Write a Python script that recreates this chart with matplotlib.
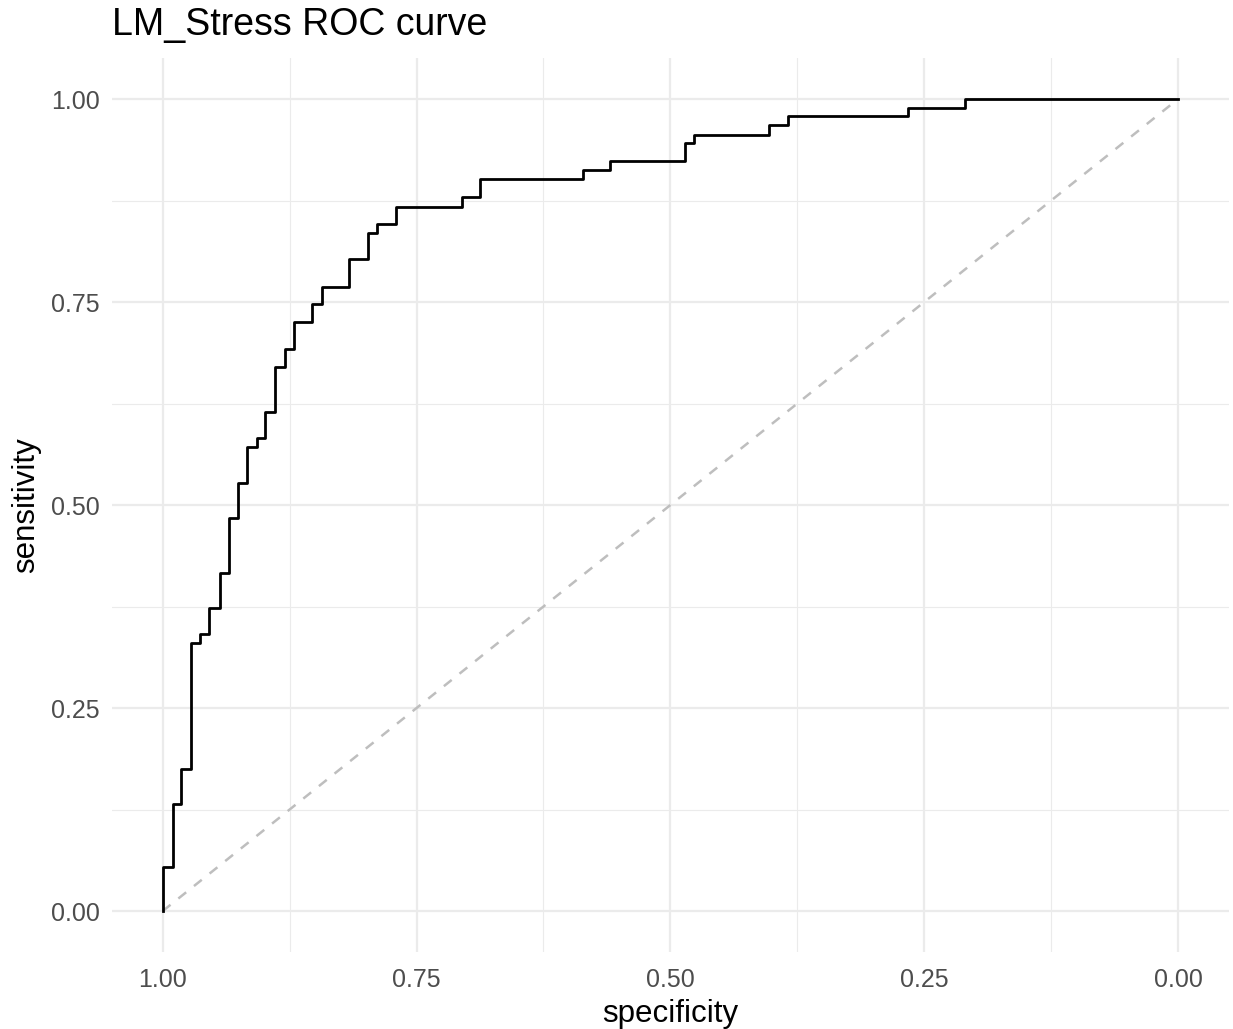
import numpy as np
import matplotlib.pyplot as plt

plt.rcParams['font.family'] = ['Liberation Sans', 'DejaVu Sans']

# ROC corner points (specificity, sensitivity)
specificity = [1.000, 1.000, 0.990, 0.982, 0.972, 0.963, 0.954, 0.944, 0.935,
               0.926, 0.917, 0.907, 0.899, 0.889, 0.880, 0.871, 0.853, 0.843,
               0.817, 0.798, 0.789, 0.770, 0.705, 0.688, 0.586, 0.559, 0.486,
               0.477, 0.403, 0.384, 0.266, 0.210, 0.000]
sensitivity = [0.000, 0.054, 0.132, 0.175, 0.330, 0.341, 0.373, 0.416, 0.484,
               0.527, 0.571, 0.583, 0.615, 0.670, 0.692, 0.725, 0.748, 0.768,
               0.803, 0.835, 0.846, 0.867, 0.879, 0.901, 0.913, 0.924, 0.946,
               0.956, 0.968, 0.979, 0.989, 1.000, 1.000]

ticks = [1.00, 0.75, 0.50, 0.25, 0.00]
tick_labels = ['1.00', '0.75', '0.50', '0.25', '0.00']
minor = [0.875, 0.625, 0.375, 0.125]

fig = plt.figure(figsize=(12.33, 10.29), dpi=100)
ax = fig.add_axes([0.0908, 0.0752, 0.9058, 0.868])

ax.plot([1, 0], [0, 1], linestyle=(0, (4, 4)), color='#bebebe', linewidth=1.8)
ax.step(specificity, sensitivity, where='post', color='black', linewidth=2.0)

ax.set_xlim(1.05, -0.05)
ax.set_ylim(-0.05, 1.05)
ax.set_xticks(ticks)
ax.set_xticklabels(tick_labels)
ax.set_yticks(ticks)
ax.set_yticklabels(tick_labels)
ax.set_xticks(minor, minor=True)
ax.set_yticks(minor, minor=True)

ax.grid(which='major', color='#ebebeb', linewidth=1.6)
ax.grid(which='minor', color='#ebebeb', linewidth=0.8)
ax.set_axisbelow(True)
for s in ax.spines.values():
    s.set_visible(False)
ax.tick_params(which='both', length=0)
ax.tick_params(axis='x', pad=12, labelsize=18, labelcolor='#4d4d4d')
ax.tick_params(axis='y', pad=9, labelsize=18, labelcolor='#4d4d4d')

ax.set_xlabel('specificity', fontsize=22.5, labelpad=5)
ax.set_ylabel('sensitivity', fontsize=22.5, labelpad=7)
ax.set_title('LM_Stress ROC curve', loc='left', fontsize=27, pad=17)

fig.savefig('out.png', dpi=100)
